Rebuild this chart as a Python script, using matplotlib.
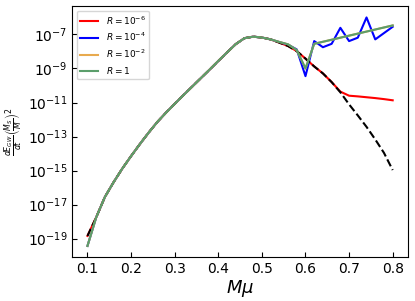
import numpy as np
import matplotlib
matplotlib.use("Agg")
from matplotlib import pyplot as plt
from matplotlib.ticker import NullLocator

# M*mu grid
m_mu = [0.10, 0.12, 0.14, 0.16, 0.18, 0.20, 0.22, 0.24, 0.26, 0.28,
        0.30, 0.32, 0.34, 0.36, 0.38, 0.40, 0.42, 0.44, 0.46, 0.48,
        0.50, 0.52, 0.54, 0.56, 0.58, 0.60, 0.62, 0.64, 0.66, 0.68,
        0.70, 0.72, 0.74, 0.76, 0.78, 0.80]

# log10 of dE/dt (M_S/M)^2, shared part up to 0.52
common = [-19.43, -17.75, -16.55, -15.68, -14.88, -14.15, -13.45, -12.78, -12.15, -11.60,
          -11.08, -10.57, -10.07, -9.57, -9.07, -8.56, -8.06, -7.57, -7.22, -7.13,
          -7.18, -7.29]

log_r6 = [-18.84] + common[1:] + [-7.48, -7.68, -7.98, -8.42, -8.88, -9.29, -9.80, -10.36,
                                  -10.60, -10.64, -10.69, -10.74, -10.80, -10.87]
log_r4 = common + [-7.45, -7.60, -7.88, -9.45, -7.39, -7.75, -7.55, -6.61,
                   -7.39, -7.19, -6.00, -7.29, -6.92, -6.55]
log_r2 = common + [-7.44, -7.58, -7.92, -9.00, -7.55, -7.43, -7.31, -7.19,
                   -7.07, -6.95, -6.83, -6.71, -6.59, -6.47]
log_r1 = log_r2
log_analytic = [-18.84] + common[1:] + [-7.48, -7.68, -7.98, -8.42, -8.88, -9.29, -9.80, -10.40,
                                        -11.11, -11.76, -12.43, -13.17, -13.96, -14.97]


def _main():
    fig = plt.figure(figsize=(4.15, 3.01), dpi=100)
    ax = fig.add_axes([0.174, 0.145, 0.809, 0.835])

    x = np.array(m_mu)
    ax.plot(x, 10 ** np.array(log_r6), color='red', lw=1.5, label=r'$R=10^{-6}$', zorder=2)
    ax.plot(x, 10 ** np.array(log_r4), color='blue', lw=1.5, label=r'$R=10^{-4}$', zorder=2)
    ax.plot(x, 10 ** np.array(log_analytic), color='black', lw=1.5, ls='--', zorder=3)
    ax.plot(x, 10 ** np.array(log_r2), color='#e8aa4e', lw=1.5, label=r'$R=10^{-2}$', zorder=4)
    ax.plot(x, 10 ** np.array(log_r1), color='#5b9e6b', lw=1.5, label=r'$R=1$', zorder=5)

    ax.set_yscale('log')
    ax.set_yticks([10.0 ** k for k in range(-19, -6, 2)])
    ax.yaxis.set_minor_locator(NullLocator())
    ax.tick_params(direction='in', labelsize=10)
    ax.set_xticks([0.1, 0.2, 0.3, 0.4, 0.5, 0.6, 0.7, 0.8])

    ax.set_xlabel(r'$M\mu$', fontsize=13, labelpad=1)
    ax.set_ylabel(r'$\frac{dE_{GW}}{dt}\left(\frac{M_S}{M}\right)^2$', fontsize=8, labelpad=2)
    ax.legend(loc='upper left', fontsize=6.5)

    fig.savefig('out.png', dpi=100)


if __name__ == "__main__":
    _main()
